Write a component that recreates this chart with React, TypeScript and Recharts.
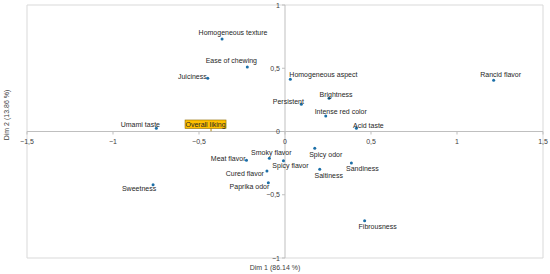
import React from 'react';
import { ScatterChart, Scatter, XAxis, YAxis, ReferenceLine, ReferenceArea } from 'recharts';

// attribute loadings on the first two dimensions
const attributes = [
  'Homogeneous texture', 'Ease of chewing', 'Juiciness', 'Umami taste',
  'Homogeneous aspect', 'Persistent', 'Brightness', 'Intense red color',
  'Acid taste', 'Rancid flavor', 'Spicy odor', 'Spicy flavor',
  'Saltiness', 'Sandiness', 'Fibrousness', 'Meat flavor',
  'Smoky flavor', 'Cured flavor', 'Paprika odor', 'Sweetness',
];
const dim1 = [
  -0.366, -0.219, -0.449, -0.748,
  0.031, 0.095, 0.256, 0.237,
  0.415, 1.213, 0.173, -0.009,
  0.202, 0.386, 0.463, -0.224,
  -0.091, -0.105, -0.097, -0.767,
];
const dim2 = [
  0.731, 0.51, 0.42, 0.025,
  0.413, 0.215, 0.262, 0.123,
  0.025, 0.405, -0.133, -0.231,
  -0.299, -0.249, -0.705, -0.228,
  -0.212, -0.312, -0.405, -0.42,
];

// supplementary variable
const suppNames = ['Overall liking'];
const suppDim1 = [-0.43];
const suppDim2 = [0.01];

const xTicks = [-1.5, -1, -0.5, 0, 0.5, 1, 1.5];
const yTicks = [-1, -0.5, 0, 0.5, 1];

const data = attributes.map((name, i) => ({ name, x: dim1[i], y: dim2[i] }));
const suppData = suppNames.map((name, i) => ({ name, x: suppDim1[i], y: suppDim2[i] }));

// label placement relative to each dot: [anchor, dx, dy]
const labelPos: Record<string, [string, number, number]> = {
  'Homogeneous texture': ['middle', 11, -7],
  'Ease of chewing': ['middle', -16, -6],
  'Juiciness': ['end', -1, -2],
  'Umami taste': ['middle', -16, -4],
  'Homogeneous aspect': ['start', -1, -5],
  'Persistent': ['middle', -13, -3],
  'Brightness': ['middle', 7, -4],
  'Intense red color': ['middle', 15, -4],
  'Acid taste': ['middle', 12, -3],
  'Rancid flavor': ['middle', 7, -6],
  'Spicy odor': ['middle', 11, 6],
  'Spicy flavor': ['middle', 7, 5],
  'Saltiness': ['middle', 9, 6],
  'Sandiness': ['middle', 11, 6],
  'Fibrousness': ['middle', 13, 6],
  'Meat flavor': ['end', -1, -2],
  'Smoky flavor': ['middle', 2, -6],
  'Cured flavor': ['end', -3, 3],
  'Paprika odor': ['end', 1, 4],
  'Sweetness': ['middle', -14, 4],
};

const W = 550;
const H = 274;
const margin = { top: 5, right: 7, bottom: 0, left: 0 };
const AXIS_H = 16;
const AXIS_W = 27;
const zeroY = margin.top + (H - margin.top - margin.bottom - AXIS_H) / 2;
const zeroX = margin.left + AXIS_W + (W - margin.left - margin.right - AXIS_W) / 2;
const FONT = '"Liberation Sans", Arial, sans-serif';

const fmt = (v: number) => String(v).replace('.', ',').replace('-', '\u2212');

const XTick = (props: any) => {
  const { x, payload } = props;
  return (
    <g>
      <line x1={x} x2={x} y1={zeroY} y2={zeroY + 3} stroke="#bfbfbf" />
      <text x={x} y={zeroY + 9.5} textAnchor="middle" dominantBaseline="central"
        fontSize={7} fill="#404040" fontFamily={FONT}>{fmt(payload.value)}</text>
    </g>
  );
};

const YTick = (props: any) => {
  const { y, payload } = props;
  return (
    <g>
      <line x1={zeroX - 3} x2={zeroX} y1={y} y2={y} stroke="#bfbfbf" />
      <text x={zeroX - 5} y={y} textAnchor="end" dominantBaseline="central"
        fontSize={7} fill="#404040" fontFamily={FONT}>{fmt(payload.value)}</text>
    </g>
  );
};

const PointShape = (props: any) => {
  const { cx, cy, payload } = props;
  const [anchor, dx, dy] = labelPos[payload.name] || ['middle', 0, -5];
  return (
    <g>
      <circle cx={cx} cy={cy} r={1.5} fill="#1b6fa8" />
      <text x={cx + dx} y={cy + dy} textAnchor={anchor as any} dominantBaseline="central"
        fontSize={7} fill="#262626" fontFamily={FONT}>{payload.name}</text>
    </g>
  );
};

const SuppShape = (props: any) => {
  const { cx, cy, payload } = props;
  const bw = 41;
  const bh = 8.5;
  const bx = cx - 5.5;
  const by = cy - 6;
  return (
    <g>
      <line x1={cx} x2={cx} y1={cy - 2} y2={cy + 1} stroke="#b08000" strokeWidth={1} />
      <rect x={bx - bw / 2} y={by - bh / 2} width={bw} height={bh} fill="#ffc000" stroke="#8a6a00" strokeWidth={0.6} />
      <text x={bx} y={by + 0.3} textAnchor="middle" dominantBaseline="central"
        fontSize={7} fill="#262626" fontFamily={FONT}>{payload.name}</text>
    </g>
  );
};

export default function App() {
  return (
    <div style={{ position: 'absolute', left: 0, top: 0, width: W, height: H, background: '#fff' }}>
      <ScatterChart width={W} height={H} margin={margin}>
        <XAxis type="number" dataKey="x" domain={[-1.5, 1.5]} ticks={xTicks} interval={0}
          height={AXIS_H} axisLine={false} tickLine={false} tick={<XTick />} allowDataOverflow />
        <YAxis type="number" dataKey="y" domain={[-1, 1]} ticks={yTicks} interval={0}
          width={AXIS_W} axisLine={false} tickLine={false} tick={<YTick />} allowDataOverflow />
        <ReferenceArea x1={-1.5} x2={1.5} y1={-1} y2={1} fill="none" stroke="#d9d9d9" strokeWidth={1} />
        <ReferenceLine x={0} stroke="#bfbfbf" />
        <ReferenceLine y={0} stroke="#bfbfbf" />
        <Scatter data={data} shape={<PointShape />} isAnimationActive={false} />
        <Scatter data={suppData} shape={<SuppShape />} isAnimationActive={false} />
      </ScatterChart>
      <div style={{ position: 'absolute', left: 0, width: W, top: 264, textAlign: 'center',
        fontSize: 7, color: '#404040', fontFamily: FONT }}>Dim 1 (86.14 %)</div>
      <div style={{ position: 'absolute', left: 6, top: 115, fontSize: 7, color: '#404040',
        fontFamily: FONT, whiteSpace: 'nowrap', transform: 'translate(-50%, -50%) rotate(-90deg)' }}>
        Dim 2 (13.86 %)
      </div>
    </div>
  );
}
